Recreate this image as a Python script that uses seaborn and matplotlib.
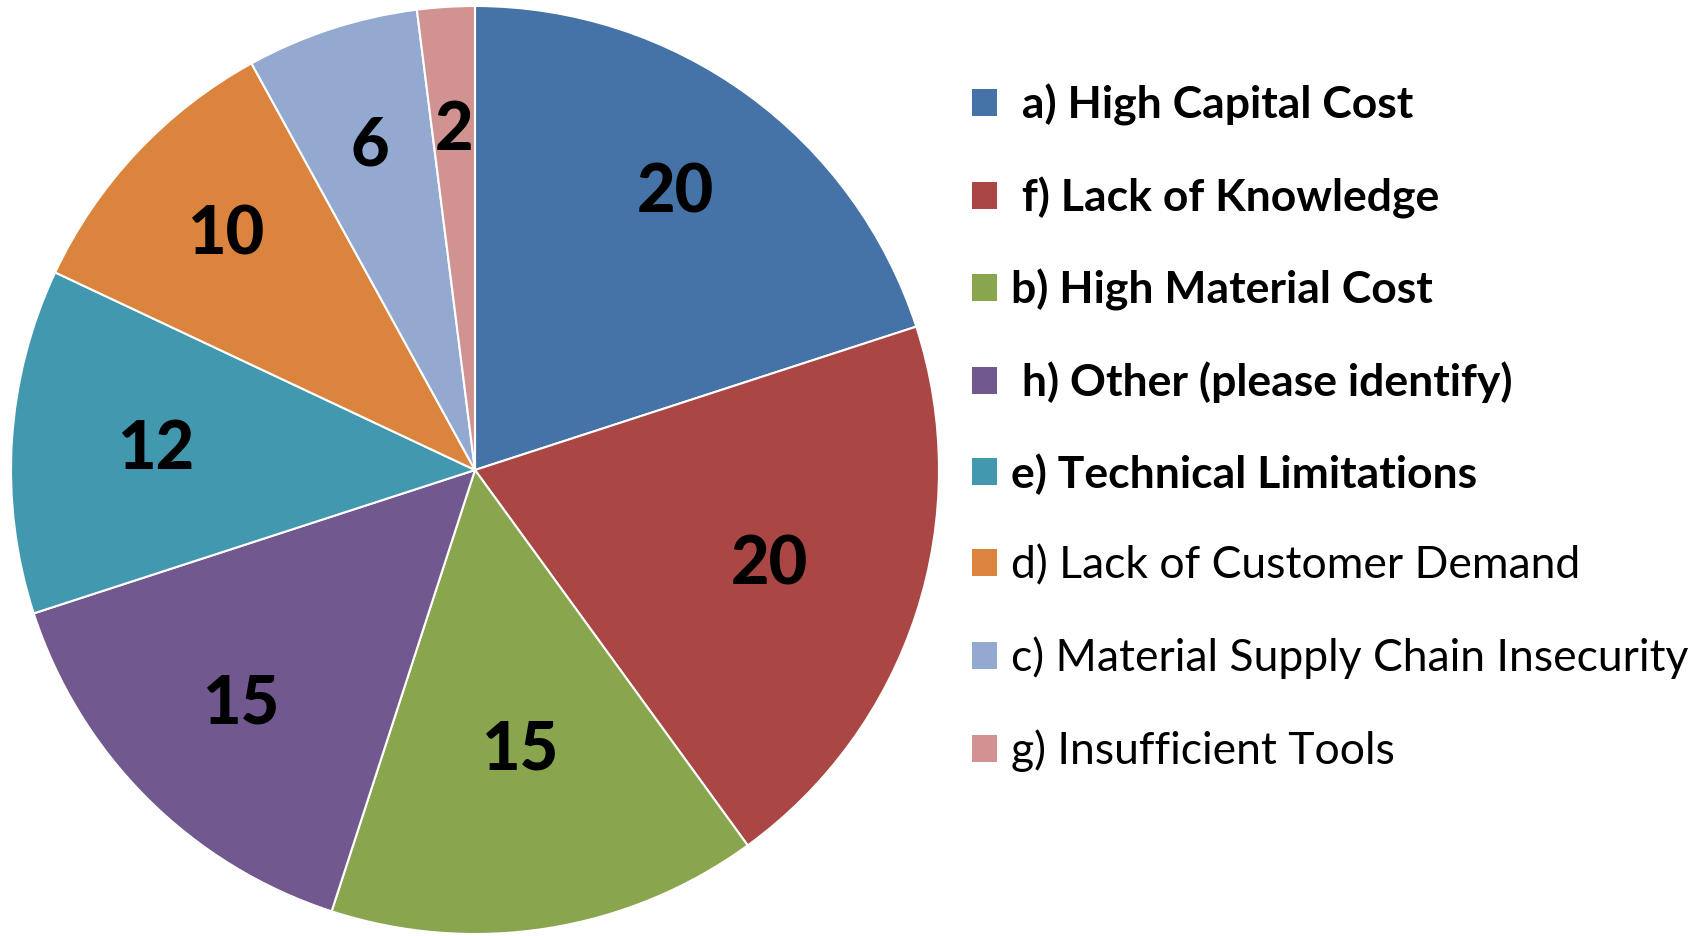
import matplotlib
matplotlib.use("Agg")
import matplotlib.pyplot as plt
import numpy as np
import seaborn as sns

categories = [" a) High Capital Cost", " f) Lack of Knowledge", "b) High Material Cost",
              " h) Other (please identify)", "e) Technical Limitations",
              "d) Lack of Customer Demand", "c) Material Supply Chain Insecurity",
              "g) Insufficient Tools"]
values = [20, 20, 15, 15, 12, 10, 6, 2]
bold_flags = [True, True, True, True, True, False, False, False]
colors = ["#4572A7", "#AA4643", "#89A54E", "#71588F", "#4198AF", "#DB843D", "#93A9CF", "#D19392"]
# style: radial placement of each value label (fraction of radius), as in the reference
label_r = [0.736, 0.668, 0.613, 0.715, 0.69, 0.738, 0.733, 0.733]

sns.set_theme(style="white")
plt.rcParams['font.family'] = ['Lato', 'DejaVu Sans']
plt.rcParams['text.color'] = 'black'

W, H = 1704, 936
fig = plt.figure(figsize=(W / 100, H / 100), dpi=100)
cx, cy, r = 475, 470, 464
ax = fig.add_axes([(cx - r) / W, (H - cy - r) / H, 2 * r / W, 2 * r / H])
wedges, texts = ax.pie(values, labels=[str(v) for v in values], colors=colors,
                       startangle=90, counterclock=False, labeldistance=0.737,
                       wedgeprops=dict(edgecolor="white", linewidth=1.5),
                       textprops=dict(fontsize=48, fontweight=900, color="black",
                                      ha="center", va="center"))
for w, t, d in zip(wedges, texts, label_r):
    ang = np.deg2rad((w.theta1 + w.theta2) / 2)
    t.set_position((d * np.cos(ang), d * np.sin(ang)))
    t.set_ha("center")
    t.set_va("center")
ax.set_xlim(-1, 1)
ax.set_ylim(-1, 1)
ax.set_aspect("equal")
ax.axis("off")

fs = 32
leg = fig.legend(wedges, categories, loc="upper left",
                 bbox_to_anchor=(972 / W, 1 - 84 / H), frameon=False,
                 fontsize=fs, handlelength=0.56, handleheight=0.56,
                 handletextpad=0.31, labelspacing=1.13, borderpad=0, borderaxespad=0,
                 labelcolor="black")
for t, b in zip(leg.get_texts(), bold_flags):
    t.set_fontweight("bold" if b else "normal")
    t.set_color("black")
for h in leg.legend_handles:
    h.set_edgecolor("none")

fig.savefig("out.png", dpi=100, facecolor="white")
